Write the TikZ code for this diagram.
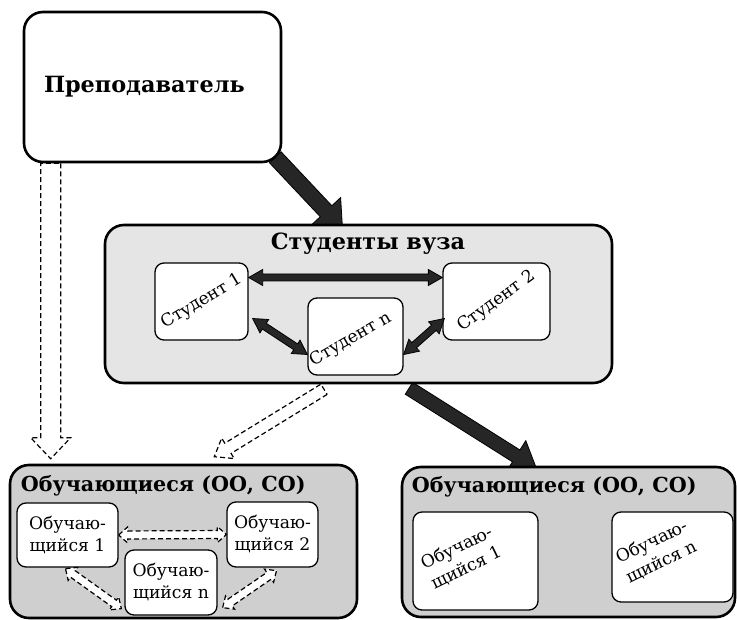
\documentclass[tikz,border=0pt]{standalone}
\usepackage{fontspec}
\setmainfont{DejaVu Serif}[Scale = 0.86]
\usetikzlibrary{calc}
\usetikzlibrary{backgrounds}
\tikzset{>=latex}

% block arrow: style, from, to, half shaft, half head, head length
\newcommand{\blockarrow}[6]{%
\coordinate (ba-s) at (#2);
\coordinate (ba-t) at (#3);
\coordinate (ba-h) at ($(ba-t)!#6!(ba-s)$);
\draw[#1] ($(ba-s)!#4!90:(ba-t)$) -- ($(ba-h)!#4!-90:(ba-s)$) -- ($(ba-h)!#5!-90:(ba-s)$) -- (ba-t)
	-- ($(ba-h)!#5!90:(ba-s)$) -- ($(ba-h)!#4!90:(ba-s)$) -- ($(ba-s)!#4!-90:(ba-t)$) -- cycle;
}
% same, with a head at both ends
\newcommand{\dblblockarrow}[6]{%
\coordinate (ba-s) at (#2);
\coordinate (ba-t) at (#3);
\coordinate (ba-h) at ($(ba-t)!#6!(ba-s)$);
\coordinate (ba-g) at ($(ba-s)!#6!(ba-t)$);
\draw[#1] (ba-s) -- ($(ba-g)!#5!90:(ba-t)$) -- ($(ba-g)!#4!90:(ba-t)$) -- ($(ba-h)!#4!-90:(ba-s)$) -- ($(ba-h)!#5!-90:(ba-s)$) -- (ba-t)
	-- ($(ba-h)!#5!90:(ba-s)$) -- ($(ba-h)!#4!90:(ba-s)$) -- ($(ba-g)!#4!-90:(ba-t)$) -- ($(ba-g)!#5!-90:(ba-t)$) -- cycle;
}

\begin{document}
\begin{tikzpicture}[x = 1pt, y = -1pt,
	bigbox/.style = {draw, line width = 2.6pt, rounded corners = 19pt},
	smallbox/.style = {draw, line width = 1.3pt, rounded corners = 9pt, fill = white, align = center, inner sep = 0pt},
	solidarrow/.style = {draw = black, line width = 0.8pt, fill = black!85},
	hollowarrow/.style = {draw = black, line width = 1.2pt, dash pattern = on 5pt off 3pt, fill = white},
	small text/.style = {font = {\fontsize{20pt}{22pt}\selectfont}, align = center, inner sep = 0pt}]
\useasboundingbox (0,0) rectangle (737,620);

\node[bigbox, fill = white, text width = 217pt, inner xsep = 20pt, align = left, minimum height = 150pt,
	font = {\fontsize{26pt}{30pt}\selectfont\bfseries}] (TCH) at (152.5, 87) {Преподаватель};

\node[bigbox, fill = black!10, minimum width = 507pt, minimum height = 158pt] (VUZ) at (358.5, 304) {};
\node[font = {\fontsize{26pt}{30pt}\selectfont\bfseries}] (VUZ-t) at (368, 244) {Студенты вуза};

\node[smallbox, small text, minimum width = 93pt, minimum height = 77pt] (ST1) at (201.5, 301.5) {};
\node[smallbox, small text, minimum width = 107pt, minimum height = 77pt] (ST2) at (496.5, 301.5) {};
\node[smallbox, small text, minimum width = 95pt, minimum height = 77pt] (STN) at (355.5, 336.5) {};
\node[small text, rotate = 31] (ST1-t) at (ST1) {Студент 1};
\node[small text, rotate = 36] (ST2-t) at (ST2) {Студент 2};
\node[small text, rotate = 30] (STN-t) at ($(STN)+(-5,3)$) {Студент n};

\node[bigbox, fill = black!19, minimum width = 347pt, minimum height = 153pt] (OBL) at (183.5, 541.5) {};
\node[anchor = west, inner sep = 0pt, font = {\fontsize{24pt}{28pt}\selectfont\bfseries}] (OBL-t) at ($(OBL.north west)+(12,22)$) {Обучающиеся (ОО, СО)};
\node[smallbox, small text, minimum width = 101pt, minimum height = 64pt] (OL1) at (67.5, 535) {Обучаю-\\щийся 1};
\node[smallbox, small text, minimum width = 91pt, minimum height = 65pt] (OL2) at (272.5, 534.5) {Обучаю-\\щийся 2};
\node[smallbox, small text, minimum width = 92pt, minimum height = 65pt] (OLN) at (171, 582.5) {Обучаю-\\щийся n};

\node[bigbox, fill = black!19, minimum width = 333pt, minimum height = 150pt] (OBR) at (568.5, 542) {};
\node[anchor = west, inner sep = 0pt, font = {\fontsize{24pt}{28pt}\selectfont\bfseries}] (OBR-t) at ($(OBR.north west)+(11,21)$) {Обучающиеся (ОО, СО)};
\node[smallbox, small text, minimum width = 125pt, minimum height = 98pt] (OR1) at (475.5, 561) {};
\node[smallbox, small text, minimum width = 121pt, minimum height = 90pt] (ORN) at (672.5, 557) {};
\node[small text, rotate = 26] (OR1-t) at ($(OR1)+(-14,-3)$) {Обучаю-\\щийся 1};
\node[small text, rotate = 26] (ORN-t) at ($(ORN)+(-16,-5)$) {Обучаю-\\щийся n};

\begin{scope}[on background layer]
\blockarrow{solidarrow}{$(TCH.south east)+(-7,-6)$}{$(VUZ.north)+(-16,5)$}{8pt}{20pt}{24pt}
\blockarrow{solidarrow}{$(VUZ.south)+(50.5,4)$}{$(OBR.north)+(-32,3)$}{7pt}{18pt}{24pt}
\blockarrow{hollowarrow}{$(TCH.south west)+(28,0)$}{$(OBL.north west)+(42,-5)$}{10pt}{20pt}{21pt}
\blockarrow{hollowarrow}{$(VUZ.south)+(-34.5,5)$}{$(OBL.north east)+(-144,-7)$}{6pt}{12pt}{16pt}
\end{scope}

\dblblockarrow{solidarrow}{$(ST1.east)+(0,-24)$}{$(ST2.west)+(0,-24)$}{3.5pt}{8pt}{14pt}
\dblblockarrow{solidarrow}{$(ST1.east)+(4,17)$}{$(STN.west)+(0,18)$}{3.5pt}{8pt}{14pt}
\dblblockarrow{solidarrow}{$(STN.east)+(0,18)$}{$(ST2.west)+(2,17)$}{3.5pt}{8pt}{14pt}

\dblblockarrow{hollowarrow}{OL1.east}{OL2.west}{4pt}{8pt}{9pt}
\dblblockarrow{hollowarrow}{$(OL1.south)+(-2,1)$}{$(OLN.south west)+(-3,-7)$}{4pt}{8pt}{9pt}
\dblblockarrow{hollowarrow}{$(OLN.south east)+(5,-8)$}{$(OL2.south)+(4,3)$}{4pt}{8pt}{9pt}
\end{tikzpicture}
\end{document}
